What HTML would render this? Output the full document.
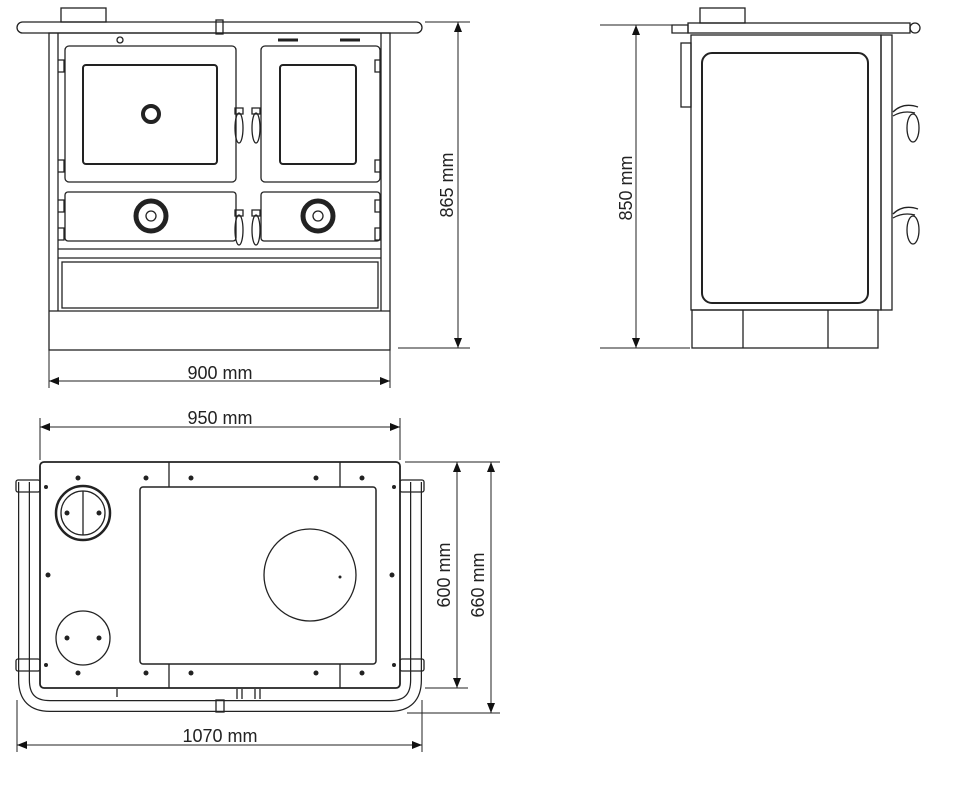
<!DOCTYPE html>
<html><head><meta charset="utf-8"><style>
html,body{margin:0;padding:0;background:#fff;}
svg{display:block;}
text{font-family:"Liberation Sans",sans-serif;font-size:18px;fill:#222;}
</style></head><body>
<svg width="980" height="788" viewBox="0 0 980 788" xmlns="http://www.w3.org/2000/svg">
<defs>
<marker id="a" viewBox="0 0 10 10" refX="10" refY="5" markerWidth="10" markerHeight="10" orient="auto-start-reverse" markerUnits="userSpaceOnUse"><path d="M0,1 L10,5 L0,9 z" fill="#111"/></marker>
</defs>
<g fill="none" stroke="#222" stroke-width="1.3">
<!-- FRONT VIEW -->
<rect x="61" y="8" width="45" height="14"/>
<rect x="17" y="22" width="405" height="11" rx="5.5"/>
<rect x="216" y="20" width="7" height="14"/>
<rect x="49" y="33" width="341" height="317"/>
<line x1="58" y1="33" x2="58" y2="311"/><line x1="381" y1="33" x2="381" y2="311"/>
<line x1="49" y1="311" x2="390" y2="311"/>
<rect x="65" y="46" width="171" height="136" rx="4"/>
<rect x="83" y="65" width="134" height="99" rx="3" stroke-width="2"/>
<rect x="261" y="46" width="119" height="136" rx="4"/>
<rect x="280" y="65" width="76" height="99" rx="3" stroke-width="2"/>
<rect x="65" y="192" width="171" height="49" rx="3"/>
<rect x="261" y="192" width="119" height="49" rx="3"/>
<line x1="58" y1="249" x2="381" y2="249"/><line x1="58" y1="258" x2="381" y2="258"/>
<rect x="62" y="262" width="316" height="46"/>
<circle cx="120" cy="40" r="3"/>
<line x1="278" y1="40" x2="298" y2="40" stroke-width="3"/><line x1="340" y1="40" x2="360" y2="40" stroke-width="3"/>
<circle cx="151" cy="114" r="8" stroke-width="4"/>
<circle cx="151" cy="216" r="15" stroke-width="5"/><circle cx="151" cy="216" r="5"/>
<circle cx="318" cy="216" r="15" stroke-width="5"/><circle cx="318" cy="216" r="5"/>
<ellipse cx="239" cy="128" rx="4" ry="15"/><ellipse cx="256" cy="128" rx="4" ry="15"/>
<ellipse cx="239" cy="230" rx="4" ry="15"/><ellipse cx="256" cy="230" rx="4" ry="15"/>
<path d="M235,108 h8 v6 h-8 z M252,108 h8 v6 h-8 z M235,210 h8 v6 h-8 z M252,210 h8 v6 h-8 z"/>
<path d="M58,60 h6 v12 h-6 M58,160 h6 v12 h-6 M58,200 h6 v12 h-6 M58,228 h6 v12 h-6"/>
<path d="M381,60 h-6 v12 h6 M381,160 h-6 v12 h6 M381,200 h-6 v12 h6 M381,228 h-6 v12 h6"/>
<!-- front dims -->
<line x1="425" y1="22" x2="470" y2="22" stroke-width="1"/>
<line x1="398" y1="348" x2="470" y2="348" stroke-width="1"/>
<line x1="458" y1="22" x2="458" y2="348" stroke-width="1" marker-start="url(#a)" marker-end="url(#a)"/>
<line x1="49" y1="350" x2="49" y2="388" stroke-width="1"/><line x1="390" y1="350" x2="390" y2="388" stroke-width="1"/>
<line x1="49" y1="381" x2="390" y2="381" stroke-width="1" marker-start="url(#a)" marker-end="url(#a)"/>

<!-- SIDE VIEW -->
<rect x="700" y="8" width="45" height="15"/>
<path d="M672,25 h16 v8 h-16 z"/>
<rect x="688" y="23" width="222" height="10"/>
<circle cx="915" cy="28" r="5"/>
<rect x="691" y="35" width="190" height="275"/>
<rect x="702" y="53" width="166" height="250" rx="10" stroke-width="2"/>
<rect x="881" y="35" width="11" height="275"/>
<rect x="681" y="43" width="10" height="64"/>
<rect x="692" y="310" width="186" height="38"/>
<line x1="743" y1="310" x2="743" y2="348"/><line x1="828" y1="310" x2="828" y2="348"/>
<path d="M893,112 q10,-10 25,-5 M893,116 q10,-6 22,-3"/>
<ellipse cx="913" cy="128" rx="6" ry="14"/>
<path d="M893,214 q10,-10 25,-5 M893,218 q10,-6 22,-3"/>
<ellipse cx="913" cy="230" rx="6" ry="14"/>
<line x1="600" y1="25" x2="688" y2="25" stroke-width="1"/>
<line x1="600" y1="348" x2="690" y2="348" stroke-width="1"/>
<line x1="636" y1="25" x2="636" y2="348" stroke-width="1" marker-start="url(#a)" marker-end="url(#a)"/>

<!-- TOP VIEW -->
<path d="M24,482 V680 Q24,706 50,706 H390 Q416,706 416,680 V482" stroke-width="12" stroke="#222"/>
<path d="M24,482 V680 Q24,706 50,706 H390 Q416,706 416,680 V482" stroke-width="9.5" stroke="#fff"/>
<rect x="16" y="480" width="24" height="12" rx="2"/><rect x="16" y="659" width="24" height="12" rx="2"/>
<rect x="400" y="480" width="24" height="12" rx="2"/><rect x="400" y="659" width="24" height="12" rx="2"/>
<rect x="40" y="462" width="360" height="226" rx="4" fill="#fff" stroke-width="1.8"/>
<line x1="169" y1="462" x2="169" y2="688"/><line x1="340" y1="462" x2="340" y2="688"/>
<rect x="140" y="487" width="236" height="177" rx="3" fill="#fff" stroke-width="1.5"/>
<circle cx="310" cy="575" r="46"/>
<circle cx="83" cy="513" r="27" stroke-width="2.5"/><circle cx="83" cy="513" r="22"/>
<line x1="83" y1="491" x2="83" y2="535"/>
<circle cx="83" cy="638" r="27"/>
<rect x="216" y="700" width="8" height="12"/>
<path d="M237,689 v10 M242,689 v10 M255,689 v10 M260,689 v10 M117,689 v8"/>
<line x1="40" y1="418" x2="40" y2="460" stroke-width="1"/><line x1="400" y1="418" x2="400" y2="460" stroke-width="1"/>
<line x1="40" y1="427" x2="400" y2="427" stroke-width="1" marker-start="url(#a)" marker-end="url(#a)"/>
<line x1="405" y1="462" x2="500" y2="462" stroke-width="1"/>
<line x1="425" y1="688" x2="468" y2="688" stroke-width="1"/>
<line x1="407" y1="713" x2="500" y2="713" stroke-width="1"/>
<line x1="457" y1="462" x2="457" y2="688" stroke-width="1" marker-start="url(#a)" marker-end="url(#a)"/>
<line x1="491" y1="462" x2="491" y2="713" stroke-width="1" marker-start="url(#a)" marker-end="url(#a)"/>
<line x1="17" y1="700" x2="17" y2="752" stroke-width="1"/><line x1="422" y1="700" x2="422" y2="752" stroke-width="1"/>
<line x1="17" y1="745" x2="422" y2="745" stroke-width="1" marker-start="url(#a)" marker-end="url(#a)"/>
</g>
<g fill="#222">
<circle cx="78" cy="478" r="2.5"/><circle cx="146" cy="478" r="2.5"/><circle cx="191" cy="478" r="2.5"/><circle cx="316" cy="478" r="2.5"/><circle cx="362" cy="478" r="2.5"/>
<circle cx="78" cy="673" r="2.5"/><circle cx="146" cy="673" r="2.5"/><circle cx="191" cy="673" r="2.5"/><circle cx="316" cy="673" r="2.5"/><circle cx="362" cy="673" r="2.5"/>
<circle cx="48" cy="575" r="2.5"/><circle cx="392" cy="575" r="2.5"/>
<circle cx="46" cy="487" r="2"/><circle cx="46" cy="665" r="2"/><circle cx="394" cy="487" r="2"/><circle cx="394" cy="665" r="2"/>
<circle cx="67" cy="513" r="2.5"/><circle cx="99" cy="513" r="2.5"/>
<circle cx="67" cy="638" r="2.5"/><circle cx="99" cy="638" r="2.5"/>
<circle cx="340" cy="577" r="1.5"/>
</g>
<text x="220" y="379" text-anchor="middle">900 mm</text>
<text x="220" y="424" text-anchor="middle">950 mm</text>
<text x="220" y="742" text-anchor="middle">1070 mm</text>
<text transform="translate(453,185) rotate(-90)" text-anchor="middle">865 mm</text>
<text transform="translate(632,188) rotate(-90)" text-anchor="middle">850 mm</text>
<text transform="translate(450,575) rotate(-90)" text-anchor="middle">600 mm</text>
<text transform="translate(484,585) rotate(-90)" text-anchor="middle">660 mm</text>
</svg>
</body></html>
